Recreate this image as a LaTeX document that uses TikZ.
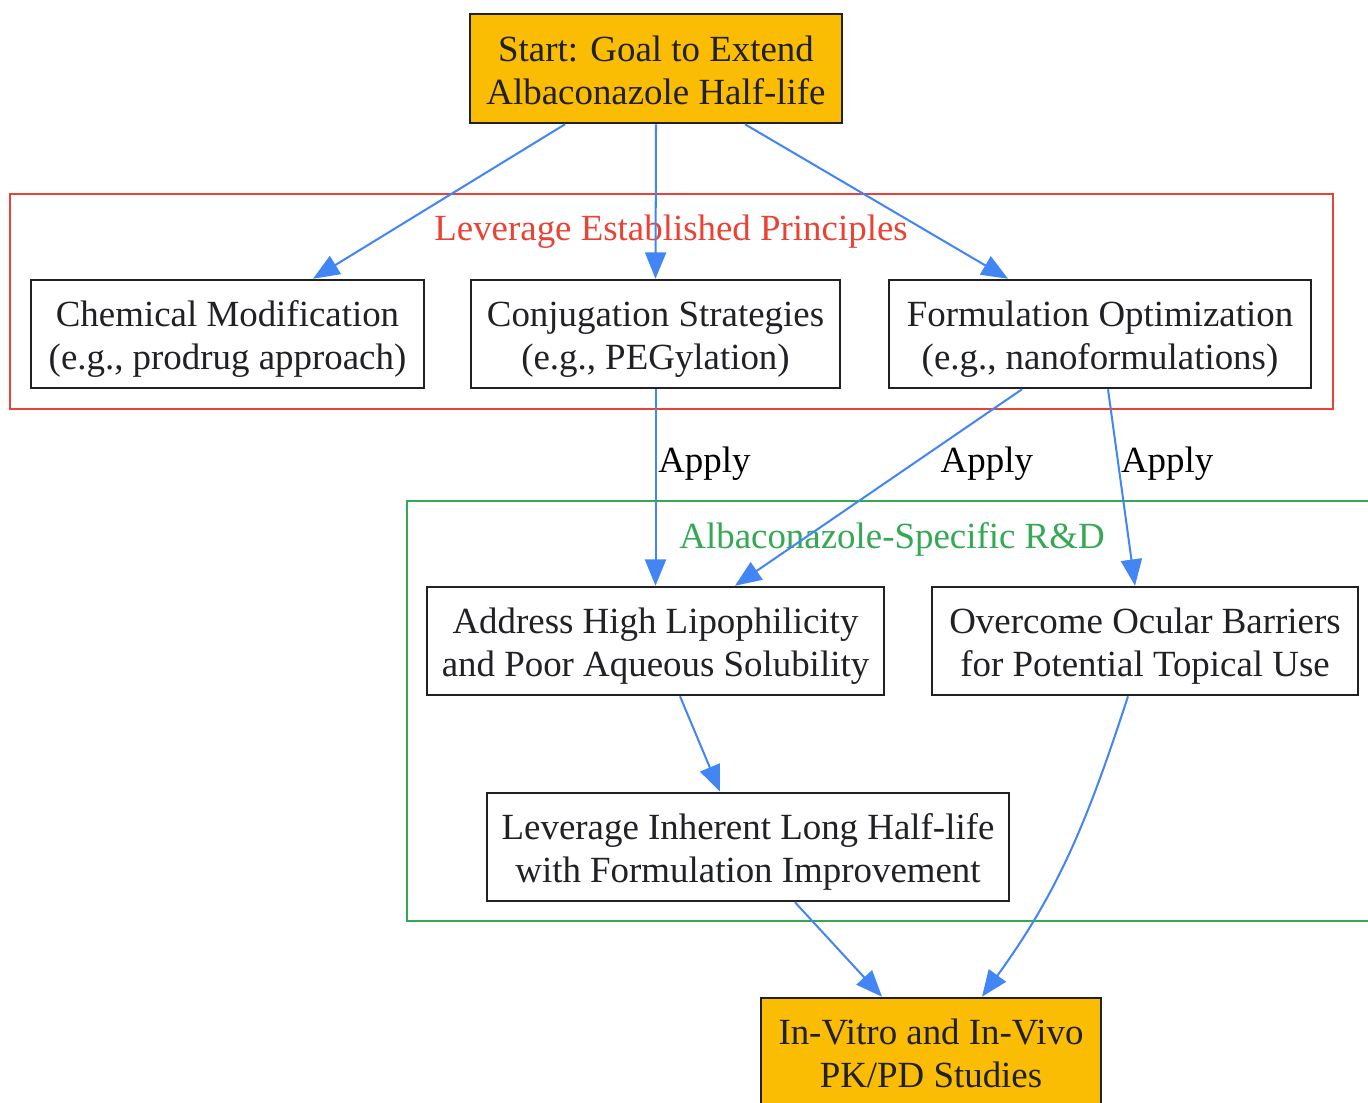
\documentclass[tikz,border=0pt]{standalone}
\usepackage{fontspec}
\setmainfont{Liberation Serif}
\usetikzlibrary{arrows.meta}

\definecolor{goalfill}{HTML}{FBBC04}
\definecolor{edgeblue}{HTML}{4285F4}
\definecolor{clred}{HTML}{EA4335}
\definecolor{clgreen}{HTML}{34A853}
\definecolor{inkgray}{HTML}{202124}

\begin{document}
\begin{tikzpicture}[
                        x=0.02cm,
                        y=-0.02cm,
                        ->,
                        >={Triangle[length=15pt,width=12pt]},
                        line width=1.15pt,
                        draw=edgeblue
                    ]
                    \tikzstyle{box}=[draw=inkgray,line width=1.45pt,fill=white,text=inkgray,align=center,
                                     inner sep=0pt,minimum height=2.16cm,text height=40.7pt,text depth=0pt,
                                     font=\fontsize{21}{24.5}\selectfont]
                    \tikzstyle{goal}=[box,fill=goalfill]
                    \tikzstyle{apply}=[anchor=west,inner sep=1pt,text=black,font=\fontsize{21}{24.5}\selectfont]
                    \tikzstyle{cluster}=[-,line width=1.1pt]

                    \useasboundingbox (0,0) rectangle (1368,1102);

                    % clusters
                    \draw[cluster,draw=clred]   (10,194) rectangle (1333,409);
                    \draw[cluster,draw=clgreen] (407,501) rectangle (1390,921);
                    \node[apply,anchor=center,text=clred]   (L1) at (671,232) {Leverage Established Principles};
                    \node[apply,anchor=center,text=clgreen] (L2) at (892,539) {Albaconazole-Specific R\&D};

                    \node[goal,minimum width=7.44cm,minimum height=2.18cm] (A) at (656,68.5)
                        {Start: Goal to Extend\\Albaconazole Half-life} ;
                    \node[box,minimum width=7.86cm]  (B) at (227.5,334)
                        {Chemical Modification\\(e.g., prodrug approach)} ;
                    \node[box,minimum width=7.38cm]  (C) at (655.5,334)
                        {Conjugation Strategies\\(e.g., PEGylation)} ;
                    \node[box,minimum width=8.44cm]  (D) at (1100,334)
                        {Formulation Optimization\\(e.g., nanoformulations)} ;
                    \node[box,minimum width=9.14cm]  (E) at (655.5,641)
                        {Address High Lipophilicity\\and Poor Aqueous Solubility} ;
                    \node[box,minimum width=8.52cm]  (F) at (1145,641)
                        {Overcome Ocular Barriers\\for Potential Topical Use} ;
                    \node[box,minimum width=10.44cm] (G) at (748,847)
                        {Leverage Inherent Long Half-life\\with Formulation Improvement} ;
                    \node[goal,minimum width=6.80cm] (H) at (931,1052)
                        {In-Vitro and In-Vivo\\PK/PD Studies} ;

                    \path[edgeblue]
                    ([xshift=-1.82cm]A.south) edge ([xshift=1.71cm]B.north)
                    (A.south)                 edge (C.north)
                    ([xshift=1.78cm]A.south)  edge ([xshift=-1.84cm]D.north)
                    (C.south)                 edge node[apply,pos=0.38] {Apply} (E.north)
                    ([xshift=-1.56cm]D.south) edge node[apply,pos=0.38,xshift=0.5cm] {Apply} ([xshift=1.59cm]E.north)
                    ([xshift=0.16cm]D.south)  edge node[apply,pos=0.38] {Apply} ([xshift=-0.2cm]F.north)
                    ([xshift=0.49cm]E.south)  edge ([xshift=-0.56cm]G.north)
                    ([xshift=0.94cm]G.south)  edge ([xshift=-0.98cm]H.north)
                    ([xshift=-0.34cm]F.south) edge [out=-108,in=54] ([xshift=1.02cm]H.north) ;
                \end{tikzpicture}
\end{document}
